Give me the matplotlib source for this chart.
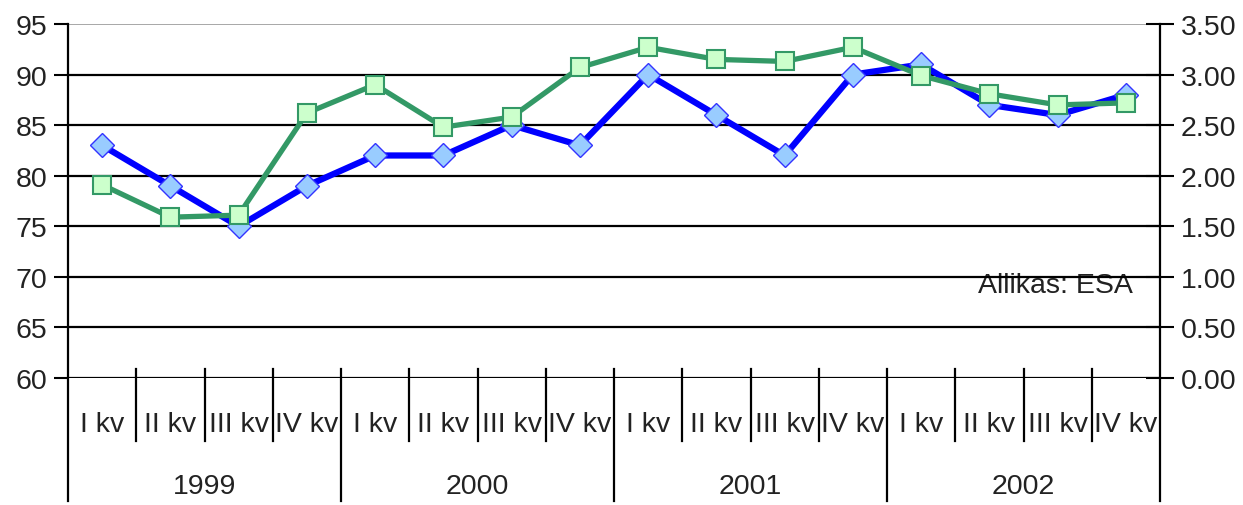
import matplotlib
matplotlib.use("Agg")
import matplotlib.pyplot as plt
import numpy as np

quarters = ["I kv", "II kv", "III kv", "IV kv"] * 4
years = ["1999", "2000", "2001", "2002"]
blue_vals = [83, 79, 75, 79, 82, 82, 85, 83, 90, 86, 82, 90, 91, 87, 86, 88]
green_vals = [1.91, 1.59, 1.61, 2.62, 2.90, 2.48, 2.58, 3.07, 3.27, 3.15, 3.13, 3.27, 2.99, 2.81, 2.70, 2.72]
left_ticks = [60, 65, 70, 75, 80, 85, 90, 95]
right_ticks = [0.0, 0.5, 1.0, 1.5, 2.0, 2.5, 3.0, 3.5]

plt.rcParams['font.family'] = ['Liberation Sans', 'DejaVu Sans']
FS = 20.5
TC = '#222222'

W, H = 1243, 506
fig = plt.figure(figsize=(W / 100, H / 100), dpi=100)
L, R, T, B = 68, 1160, 25, 379
ax = fig.add_axes([L / W, (H - B) / H, (R - L) / W, (B - T) / H])
ax2 = ax.twinx()

n = len(blue_vals)
x = np.arange(n)
ax.set_xlim(-0.5, n - 0.5)
ax.set_ylim(60, 95)
ax2.set_ylim(0, 3.5)

for a in (ax, ax2):
    for s in a.spines.values():
        s.set_visible(False)
    a.set_facecolor('none')

ax.set_yticks(left_ticks)
ax.set_yticklabels([str(v) for v in left_ticks], fontsize=FS, color=TC)
ax.tick_params(axis='y', length=10, width=1.5, color='black', pad=5)
ax2.set_yticks(right_ticks)
ax2.set_yticklabels([f"{v:.2f}" for v in right_ticks], fontsize=FS, color=TC)
ax2.tick_params(axis='y', direction='inout', length=20, width=1.5, color='black', pad=5)
ax.set_xticks([])

# gridlines
for v in left_ticks[1:-1]:
    ax.axhline(v, color='black', lw=1.6, zorder=2)
ax.axhline(95, color='#a0a0a0', lw=1.3, zorder=2)
ax.axhline(60, color='black', lw=1.6, zorder=2)

# vertical axes lines
tr = ax.get_xaxis_transform()
ax.plot([-0.5, -0.5], [1, -0.347], transform=tr, color='black', lw=1.6, clip_on=False)
ax.plot([n - 0.5, n - 0.5], [1, -0.347], transform=tr, color='black', lw=1.6, clip_on=False)

# category separators
for i in range(1, n):
    xb = i - 0.5
    bottom = -0.347 if i % 4 == 0 else -0.178
    ax.plot([xb, xb], [0.025, bottom], transform=tr, color='black', lw=1.6, clip_on=False)

for i, q in enumerate(quarters):
    ax.text(i, -0.13, q, transform=tr, ha='center', va='center', fontsize=FS, color=TC)
for j, yv in enumerate(years):
    ax.text(4 * j + 1.5, -0.305, yv, transform=tr, ha='center', va='center', fontsize=FS, color=TC)

ax.text(n - 0.5 - 0.4, 68.5, "Allikas: ESA", ha='right', va='baseline', fontsize=FS, color=TC, zorder=1)

ax.plot(x, blue_vals, color='#0000FF', lw=4.5, marker='D', markersize=12,
        markerfacecolor='#99CCFF', markeredgecolor='#3333FF', markeredgewidth=1, zorder=4)
ax2.plot(x, green_vals, color='#339966', lw=3.8, marker='s', markersize=13,
         markerfacecolor='#CCFFCC', markeredgecolor='#339966', markeredgewidth=1.5, zorder=4)

fig.savefig("out.png", dpi=100)
